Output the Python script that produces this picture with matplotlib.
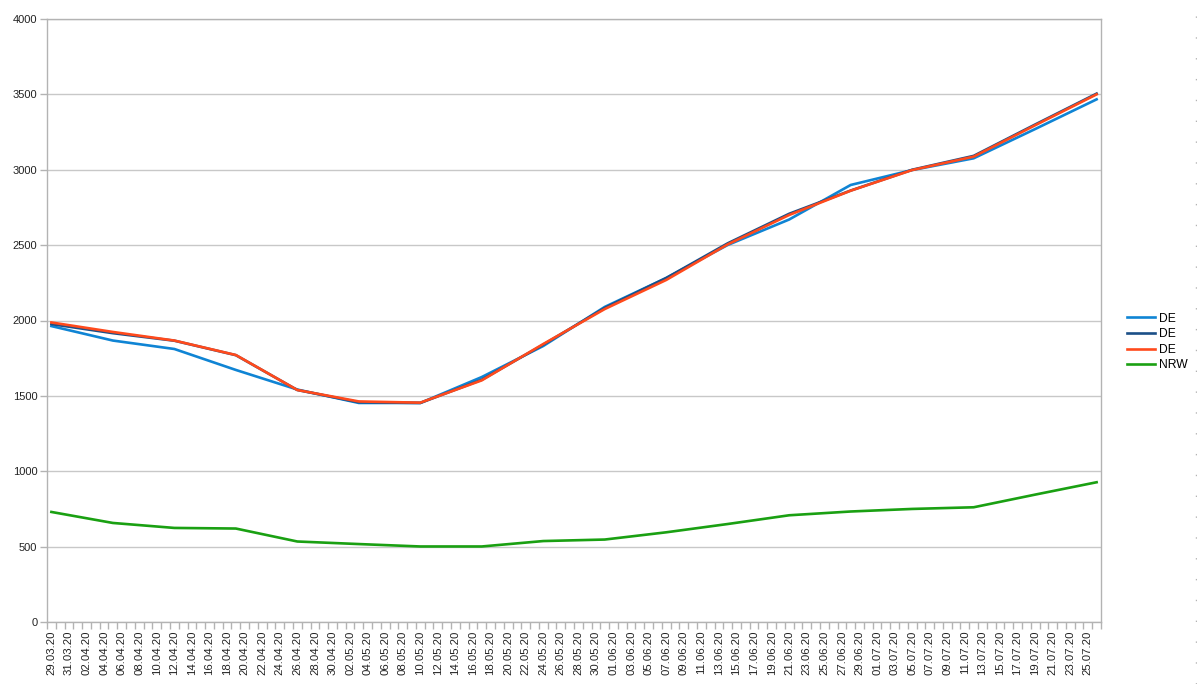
import matplotlib
matplotlib.use("Agg")
import matplotlib.pyplot as plt
from matplotlib.lines import Line2D
import datetime as dt

plt.rcParams['font.family'] = ['Liberation Sans', 'DejaVu Sans']

# ---- data ----
point_dates = ["29.03.20", "05.04.20", "12.04.20", "19.04.20", "26.04.20", "03.05.20",
               "10.05.20", "17.05.20", "24.05.20", "31.05.20", "07.06.20", "14.06.20",
               "21.06.20", "28.06.20", "05.07.20", "12.07.20", "19.07.20", "26.07.20"]
de_light = [1963, 1867, 1811, 1672, 1542, 1453, 1453, 1625, 1831, 2090, 2282, 2501,
            2670, 2899, 2998, 3076, 3270, 3467]
de_dark = [1976, 1916, 1866, 1770, 1539, 1458, 1453, 1607, 1840, 2083, 2282, 2512,
           2708, 2862, 3000, 3092, 3300, 3505]
de_orange = [1987, 1924, 1867, 1771, 1539, 1463, 1455, 1603, 1844, 2076, 2269, 2505,
             2700, 2861, 2998, 3087, 3295, 3500]
nrw = [730, 657, 624, 620, 534, 517, 501, 501, 537, 547, 595, 650, 708, 733, 750, 761, 845, 927]
series_names = ["DE", "DE", "DE", "NRW"]
colors = ["#0f84d4", "#1b4f87", "#ff4a1c", "#1aa012"]

start = dt.date(2020, 3, 29)
n_days = 120
y_ticks = list(range(0, 4001, 500))

def day_index(s):
    d = dt.datetime.strptime(s, "%d.%m.%y").date()
    return (d - start).days

x = [day_index(s) for s in point_dates]

fig = plt.figure(figsize=(11.97, 6.84), dpi=100)
ax = fig.add_axes([47/1197, 62/684, (1101-47)/1197, (622-19)/684])

for vals, c, name in zip([de_light, de_dark, de_orange, nrw], colors, series_names):
    ax.plot(x, vals, color=c, lw=1.9, label=name, solid_joinstyle='round')

ax.set_xlim(-0.5, n_days - 0.5)
ax.set_ylim(0, 4000)
ax.set_yticks(y_ticks)
ax.set_yticklabels([str(v) for v in y_ticks], fontsize=8, color="#222222")
ax.yaxis.grid(True, color="#c8c8c8", lw=1)
ax.set_axisbelow(True)

major = list(range(0, n_days, 2))
labels = [(start + dt.timedelta(days=d)).strftime("%d.%m.%y") for d in major]
ax.set_xticks(major)
ax.set_xticklabels(labels, rotation=90, fontsize=8.2, color="#222222")
ax.set_xticks([k - 0.5 for k in range(0, n_days + 1)], minor=True)
ax.tick_params(axis='x', which='major', length=0, pad=6)
ax.tick_params(axis='x', which='minor', length=5, color="#b3b3b3", width=1)
ax.tick_params(axis='y', which='major', length=5, color="#b3b3b3", width=1, pad=2)

for sp in ax.spines.values():
    sp.set_color("#b3b3b3")
    sp.set_linewidth(1)

leg = ax.legend(loc='center left', bbox_to_anchor=(1101/1197 + 0.013, 0.5),
                bbox_transform=fig.transFigure, frameon=False, fontsize=8.7,
                handlelength=2.3, handletextpad=0.35, labelspacing=0.3)

fig.add_artist(Line2D([1195.5/1197, 1195.5/1197], [0, 1], transform=fig.transFigure,
                      color="#b3b3b3", lw=1, dashes=(1, 14)))

fig.savefig("out.png", dpi=100)
